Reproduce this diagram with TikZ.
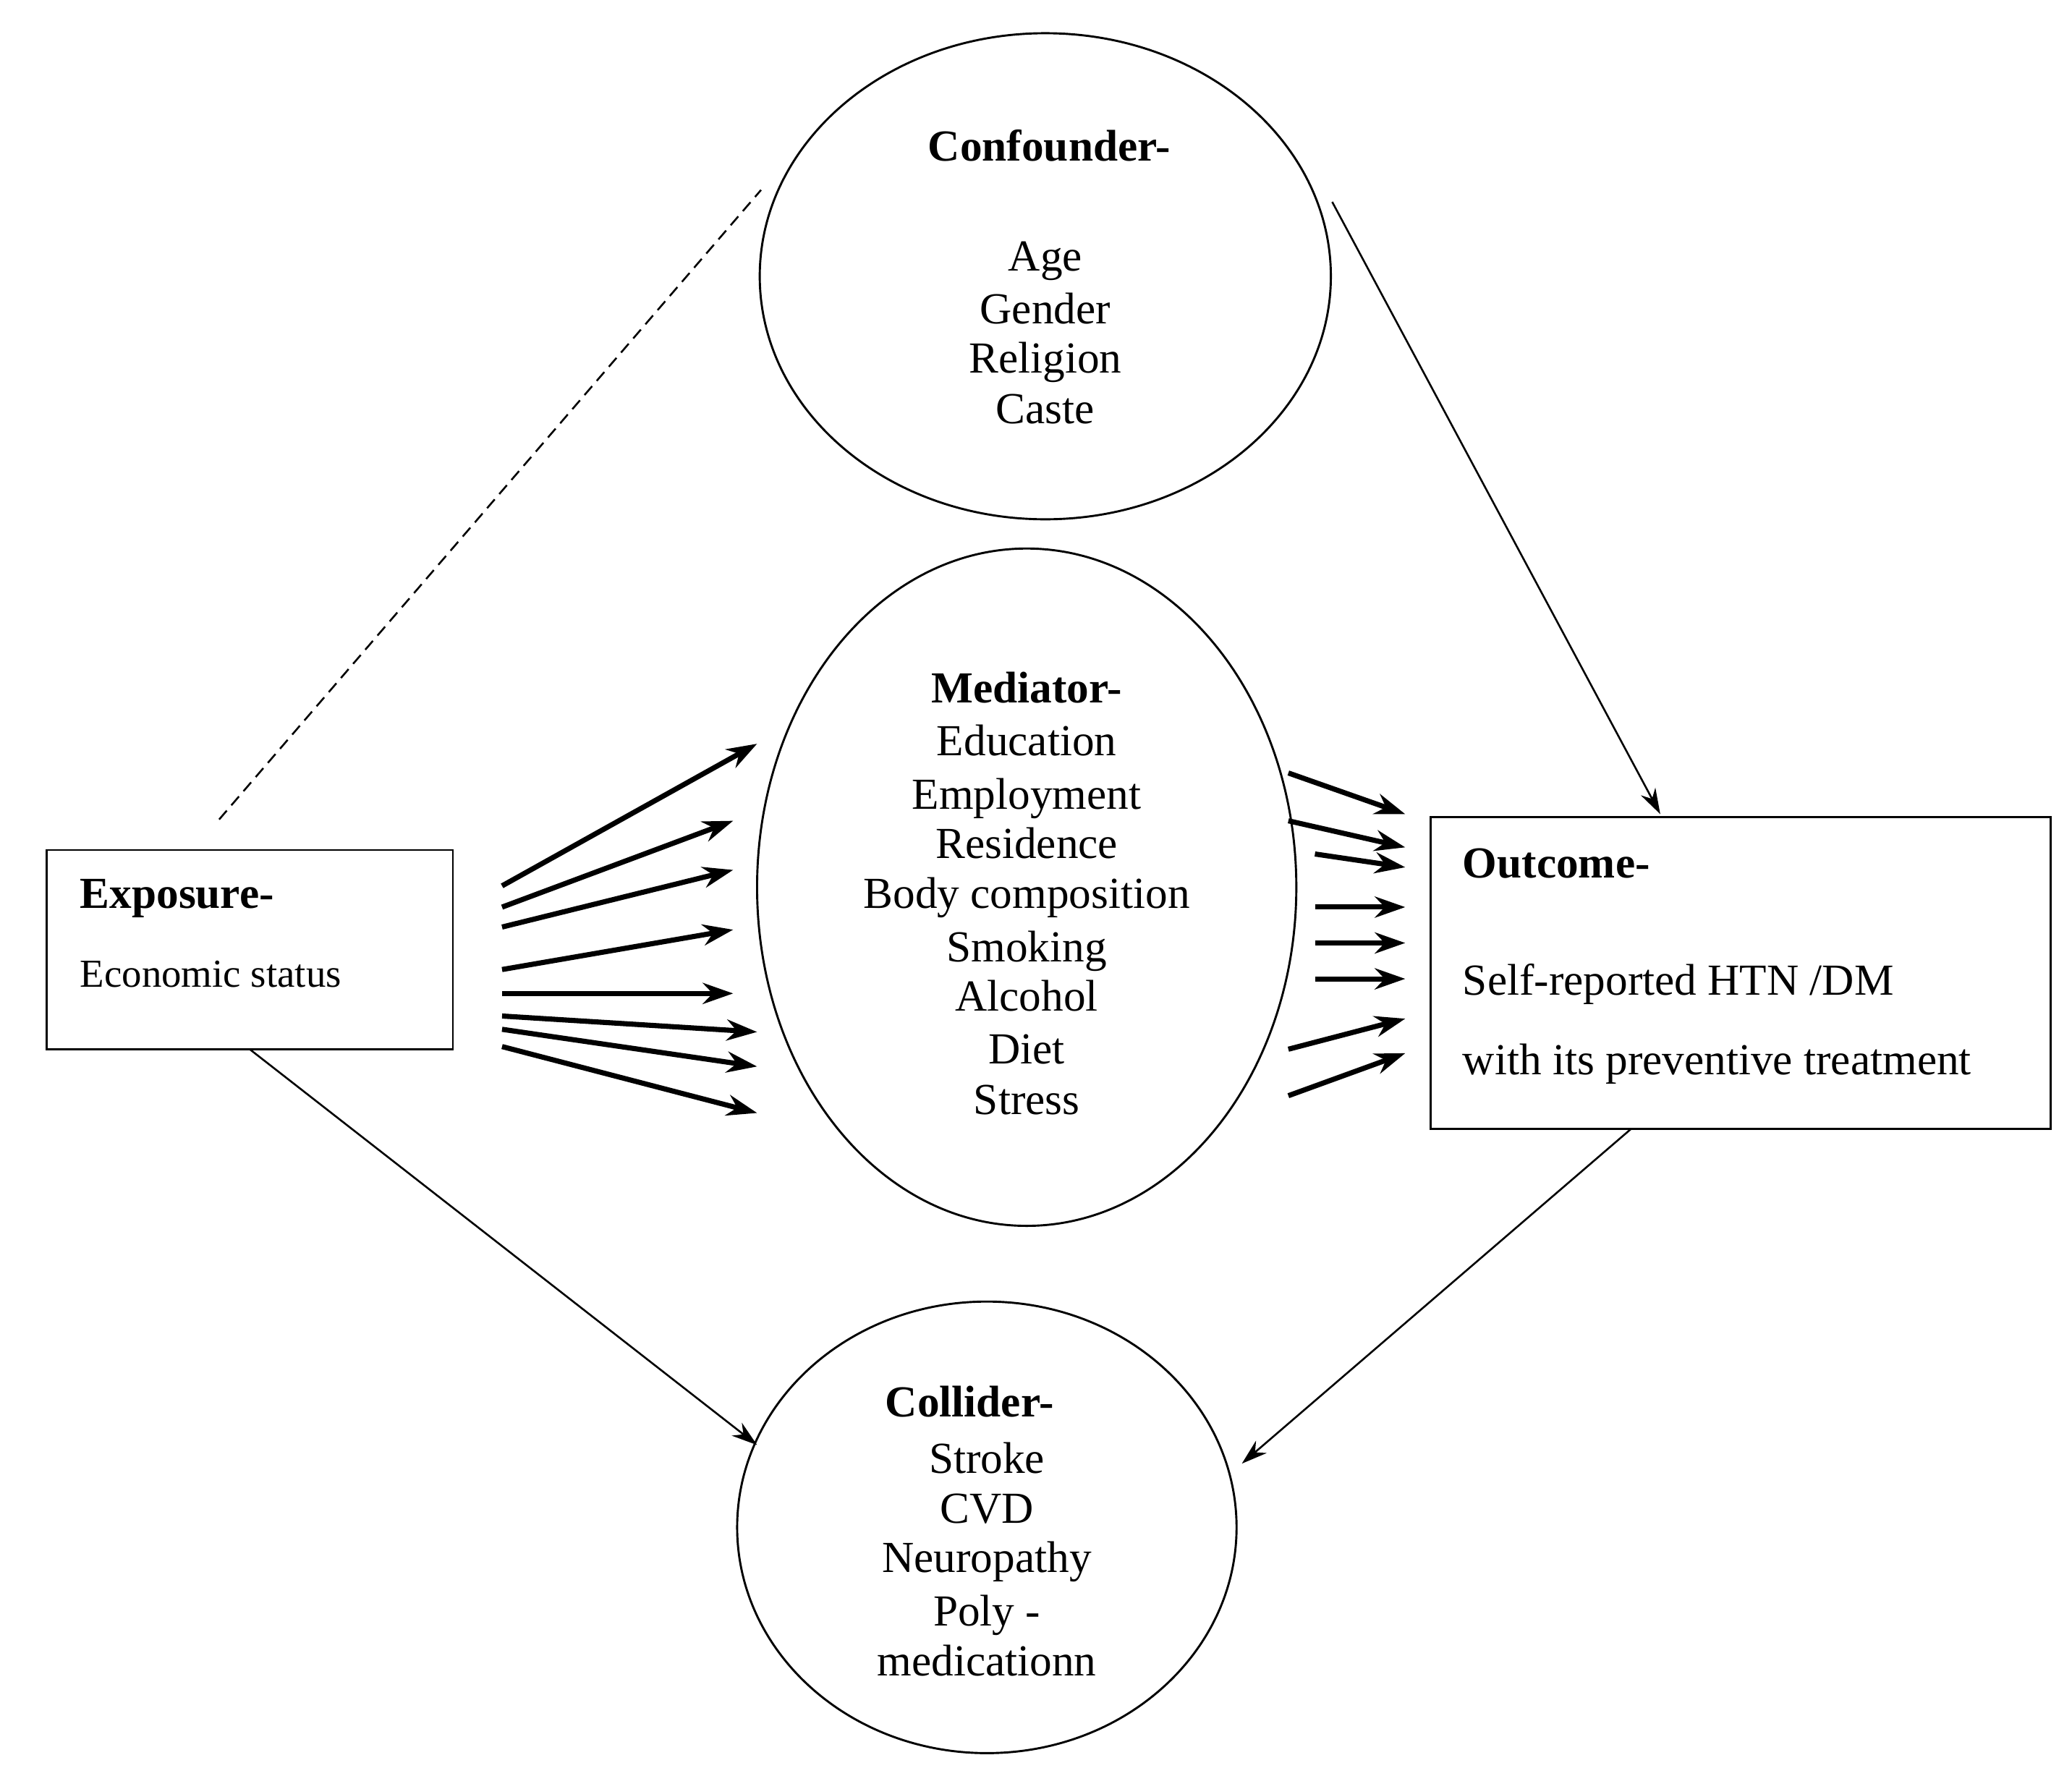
\documentclass[tikz,border=0pt]{standalone}
\usepackage{fontspec}
\setmainfont{Liberation Serif}
\usetikzlibrary{arrows.meta}
\begin{document}
\begin{tikzpicture}[x=0.02cm,y=-0.02cm,
  txt/.style={font=\fontsize{19}{22}\selectfont,inner sep=0pt,anchor=base},
  ttl/.style={font=\fontsize{19}{22}\selectfont\bfseries,inner sep=0pt,anchor=base},
  thin/.style={line width=0.8pt,-{Stealth[length=11pt,width=7pt]}},
  thick/.style={line width=2.2pt,-{Stealth[length=13pt,width=9pt]}}]
\useasboundingbox (0,0) rectangle (1560,1347);
\draw[line width=0.9pt] (787,208) ellipse [x radius=215,y radius=183];
\draw[line width=0.9pt] (773,668) ellipse [x radius=203,y radius=255];
\draw[line width=0.9pt] (743,1150) ellipse [x radius=188,y radius=170];
\node[draw,line width=0.9pt,minimum width=306*0.02cm,minimum height=150*0.02cm,inner sep=0pt] (exp) at (188,715) {};
\node[draw,line width=0.9pt,minimum width=467*0.02cm,minimum height=235*0.02cm,inner sep=0pt] (out) at (1310.5,732.5) {};
% texts
\node[ttl] at (790,121) {Confounder-};
\foreach \t/\y in {Age/195,Gender/235,Religion/272,Caste/310} \node[txt] at (787,\y+9) {\t};
\node[ttl] at (773,529) {Mediator-};
\foreach \t/\y in {Education/560,Employment/600,Residence/637,Body composition/675,Smoking/715,Alcohol/752,Diet/792,Stress/830} \node[txt] at (773,\y+9) {\t};
\node[ttl] at (730,1067) {Collider-};
\foreach \t/\y in {Stroke/1100,CVD/1138,Neuropathy/1175,Poly -/1215,medicationn/1253} \node[txt] at (743,\y+9) {\t};
\node[ttl,anchor=base west] at (60,684) {Exposure-};
\node[txt,anchor=base west,font=\fontsize{17}{20}\selectfont] at (60,743) {Economic status};
\node[ttl,anchor=base west] at (1101,661) {Outcome-};
\node[txt,anchor=base west] at (1101,749) {Self-reported HTN /DM};
\node[txt,anchor=base west] at (1101,809) {with its preventive treatment};
% connectors
\coordinate (d1) at (165,617); \coordinate (d2) at (573,143);
\draw[dash pattern=on 5pt off 3pt,line width=0.8pt] (d1) -- (d2);
\coordinate (c1) at (1003,152);
\draw[thin] (c1) -- (1250,613);
\draw[thin] (188,790) -- (570,1088);
\draw[thin] (1228,850) -- (935,1102);
\foreach \a/\b/\c/\d in {378/667/570/560,378/683/552/618,378/698/552/655,378/730/552/700,378/748/552/748,378/765/570/777,378/775/570/803,378/788/570/838,
970/582/1058/613,970/618/1058/638,990/643/1058/653,990/683/1058/683,990/710/1058/710,990/737/1058/737,970/790/1058/767,970/825/1058/793}
  \draw[thick] (\a,\b) -- (\c,\d);
\end{tikzpicture}
\end{document}
